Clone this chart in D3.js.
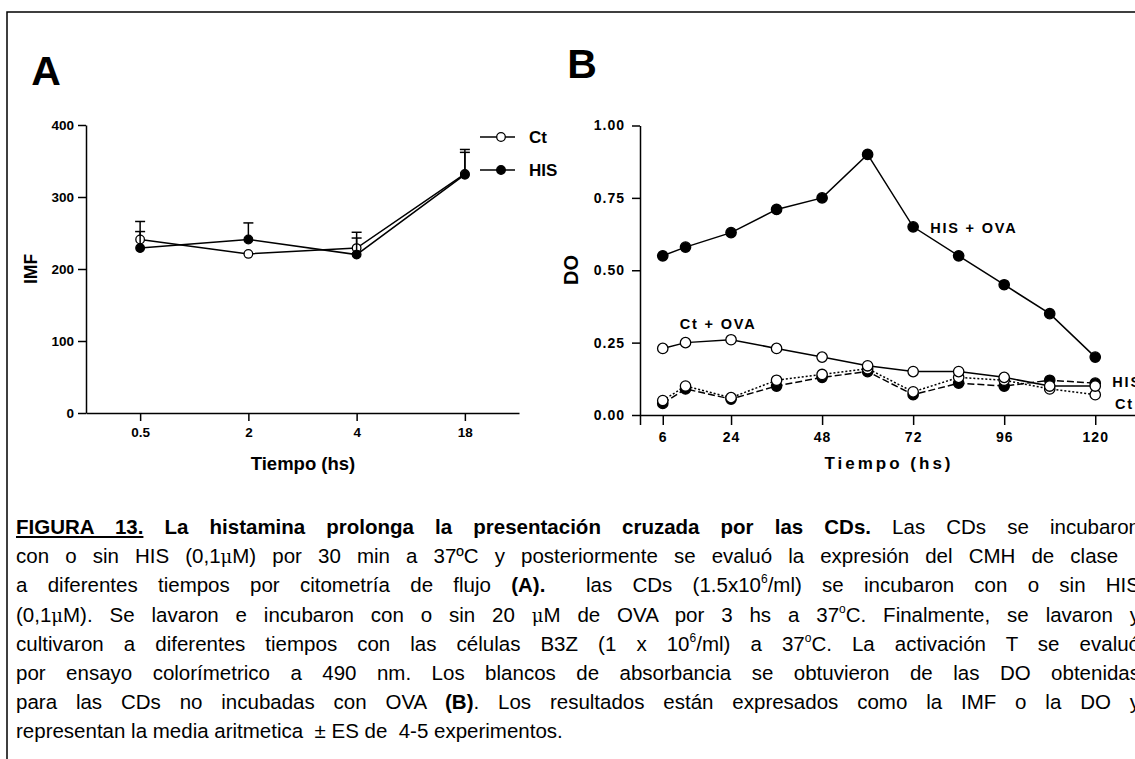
<!DOCTYPE html>
<html>
<head>
<meta charset="utf-8">
<script src="https://cdn.jsdelivr.net/npm/d3@7"></script>
<style>
body { margin: 0; background: #fff; width: 1135px; height: 759px; overflow: hidden; position: relative;
       font-family: Arial, "Liberation Sans", sans-serif; }
svg { position: absolute; left: 0; top: 0; }
.cap { position: absolute; left: 16px; width: 1124px; font-size: 20.5px; line-height: 29px;
       text-align: justify; text-align-last: justify; color: #000; }
.cap.last { text-align-last: left; white-space: pre; }
.cap sup { font-size: 12px; line-height: 0; vertical-align: 9px; }
.mu { font-family: "DejaVu Serif", serif; font-size: 18px; }
</style>
</head>
<body>
<div id="graph"></div>
<script>
// panel A
let timesA = ["0.5", "2", "4", "18"];
let ctA = [241, 221, 229, 332];
let ctAerr = [25, 0, 22, 34];
let hisA = [229, 241, 220, 331];
let hisAerr = [23, 23, 23, 31];
let ticksAy = [0, 100, 200, 300, 400];

// panel B
let timesB = [6, 12, 24, 36, 48, 60, 72, 84, 96, 108, 120];
let hisOva = [0.55, 0.58, 0.63, 0.71, 0.75, 0.90, 0.65, 0.55, 0.45, 0.35, 0.20];
let ctOva = [0.23, 0.25, 0.26, 0.23, 0.20, 0.17, 0.15, 0.15, 0.13, 0.10, 0.10];
let hisB = [0.04, 0.09, 0.055, 0.10, 0.13, 0.15, 0.07, 0.11, 0.10, 0.12, 0.11];
let ctB = [0.05, 0.10, 0.06, 0.12, 0.14, 0.16, 0.08, 0.13, 0.12, 0.09, 0.07];
let ticksBx = [0, 6, 24, 48, 72, 96, 120];
let ticksBy = [0, 0.25, 0.5, 0.75, 1];

let caption = [
    '<b><u>FIGURA 13.</u> La histamina prolonga la presentación cruzada por las CDs.</b> Las CDs se incubaron',
    'con o sin HIS (0,1<span class="mu">μ</span>M) por 30 min a 37ºC y posteriormente se evaluó la expresión del CMH de clase I',
    'a diferentes tiempos por citometría de flujo <b>(A).</b>&nbsp; las CDs (1.5x10<sup>6</sup>/ml) se incubaron con o sin HIS',
    '(0,1<span class="mu">μ</span>M). Se lavaron e incubaron con o sin 20 <span class="mu">μ</span>M de OVA por 3 hs a 37<sup>o</sup>C. Finalmente, se lavaron y',
    'cultivaron a diferentes tiempos con las células B3Z (1 x 10<sup>6</sup>/ml) a 37<sup>o</sup>C. La activación T se evaluó',
    'por ensayo colorímetrico a 490 nm. Los blancos de absorbancia se obtuvieron de las DO obtenidas',
    'para las CDs no incubadas con OVA <b>(B)</b>. Los resultados están expresados como la IMF o la DO y',
    'representan la media aritmetica  ± ES de  4-5 experimentos.'
];

let svg = d3.select("#graph").append("svg").attr("width", 1135).attr("height", 759);

// frame
svg.append("rect").attr("x", 7).attr("y", 12).attr("width", 1200).attr("height", 800)
    .attr("fill", "none").attr("stroke", "#000").attr("stroke-width", 1.5);

let styleAxis = function(g, size, spacing) {
    g.selectAll("path,line").attr("stroke", "#000").attr("stroke-width", 1.5);
    g.selectAll("text").attr("font-family", "Arial, 'Liberation Sans', sans-serif")
        .attr("font-weight", "bold").attr("font-size", size).attr("fill", "#000")
        .attr("letter-spacing", spacing);
};

// ---------- panel A ----------
let xA = d3.scalePoint().domain(timesA).range([86, 519]).padding(0.5);
let yA = d3.scaleLinear().domain([0, 400]).range([413, 125]);

let gAx = svg.append("g").attr("transform", "translate(0,413)")
    .call(d3.axisBottom(xA).tickSize(8).tickSizeOuter(0).tickPadding(6));
styleAxis(gAx, 13.5, 0);
let gAy = svg.append("g").attr("transform", "translate(86,0)")
    .call(d3.axisLeft(yA).tickValues(ticksAy).tickSize(8).tickSizeOuter(0).tickPadding(4));
styleAxis(gAy, 13.5, 0);

svg.append("text").attr("x", 46).attr("y", 85).attr("text-anchor", "middle")
    .attr("font-size", 41).attr("font-weight", "bold").text("A");
svg.append("text").attr("transform", "translate(37,269) rotate(-90)").attr("text-anchor", "middle")
    .attr("font-size", 17.5).attr("font-weight", "bold").text("IMF");
svg.append("text").attr("x", 303).attr("y", 470).attr("text-anchor", "middle")
    .attr("font-size", 18.5).attr("font-weight", "bold").text("Tiempo (hs)");

let seriesA = [
    { name: "Ct", vals: ctA, err: ctAerr, fill: "#fff" },
    { name: "HIS", vals: hisA, err: hisAerr, fill: "#000" }
];
let lineA = d3.line().x(function(d) { return xA(d.t); }).y(function(d) { return yA(d.v); });
seriesA.forEach(function(s) {
    let pts = timesA.map(function(t, i) { return { t: t, v: s.vals[i], e: s.err[i] }; });
    let bars = pts.filter(function(d) { return d.e > 0; });
    svg.append("g").selectAll("line").data(bars).enter().append("line")
        .attr("x1", function(d) { return xA(d.t); }).attr("x2", function(d) { return xA(d.t); })
        .attr("y1", function(d) { return yA(d.v); }).attr("y2", function(d) { return yA(d.v + d.e); })
        .attr("stroke", "#000").attr("stroke-width", 1.5);
    svg.append("g").selectAll("line").data(bars).enter().append("line")
        .attr("x1", function(d) { return xA(d.t) - 5; }).attr("x2", function(d) { return xA(d.t) + 5; })
        .attr("y1", function(d) { return yA(d.v + d.e); }).attr("y2", function(d) { return yA(d.v + d.e); })
        .attr("stroke", "#000").attr("stroke-width", 1.5);
    svg.append("path").datum(pts).attr("d", lineA).attr("fill", "none")
        .attr("stroke", "#000").attr("stroke-width", 1.5);
    svg.append("g").selectAll("circle").data(pts).enter().append("circle")
        .attr("cx", function(d) { return xA(d.t); }).attr("cy", function(d) { return yA(d.v); })
        .attr("r", 4.3).attr("fill", s.fill).attr("stroke", "#000").attr("stroke-width", 1.3);
});

// legend A
let legA = svg.append("g").selectAll("g").data(seriesA).enter().append("g")
    .attr("transform", function(d, i) { return "translate(480," + (137 + i * 33) + ")"; });
legA.append("line").attr("x1", 0).attr("x2", 35).attr("stroke", "#000").attr("stroke-width", 1.5);
legA.append("circle").attr("cx", 21).attr("r", 4.3).attr("fill", function(d) { return d.fill; })
    .attr("stroke", "#000").attr("stroke-width", 1.3);
legA.append("text").attr("x", 49).attr("y", 6).attr("font-size", 17).attr("font-weight", "bold")
    .text(function(d) { return d.name; });

// ---------- panel B ----------
let xB = d3.scaleLinear().domain([0, 131.8]).range([640, 1140]);
let yB = d3.scaleLinear().domain([0, 1]).range([415, 125.5]);

let gBx = svg.append("g").attr("transform", "translate(0,415)")
    .call(d3.axisBottom(xB).tickValues(ticksBx).tickSize(10).tickSizeOuter(0).tickPadding(7)
        .tickFormat(function(d) { return d === 0 ? "" : d; }));
styleAxis(gBx, 14, 1);
let gBy = svg.append("g").attr("transform", "translate(640,0)")
    .call(d3.axisLeft(yB).tickValues(ticksBy).tickSize(8).tickSizeOuter(0).tickPadding(7)
        .tickFormat(d3.format(".2f")));
styleAxis(gBy, 14, 1);

svg.append("text").attr("x", 582).attr("y", 78).attr("text-anchor", "middle")
    .attr("font-size", 41).attr("font-weight", "bold").text("B");
svg.append("text").attr("transform", "translate(578,270) rotate(-90)").attr("text-anchor", "middle")
    .attr("font-size", 20).attr("font-weight", "bold").text("DO");
svg.append("text").attr("x", 889).attr("y", 469).attr("text-anchor", "middle")
    .attr("font-size", 17).attr("font-weight", "bold").attr("letter-spacing", 3).text("Tiempo (hs)");

let seriesB = [
    { name: "HIS", vals: hisB, fill: "#000", dash: "7,3" },
    { name: "Ct", vals: ctB, fill: "#fff", dash: "2,2" },
    { name: "Ct + OVA", vals: ctOva, fill: "#fff", dash: null },
    { name: "HIS + OVA", vals: hisOva, fill: "#000", dash: null }
];
let lineB = d3.line().x(function(d) { return xB(d.t); }).y(function(d) { return yB(d.v); });
seriesB.forEach(function(s) {
    let pts = timesB.map(function(t, i) { return { t: t, v: s.vals[i] }; });
    svg.append("path").datum(pts).attr("d", lineB).attr("fill", "none")
        .attr("stroke", "#000").attr("stroke-width", 1.5)
        .attr("stroke-dasharray", s.dash);
    svg.append("g").selectAll("circle").data(pts).enter().append("circle")
        .attr("cx", function(d) { return xB(d.t); }).attr("cy", function(d) { return yB(d.v); })
        .attr("r", 5.2).attr("fill", s.fill).attr("stroke", "#000").attr("stroke-width", 1.3);
});

let labB = [
    { text: "HIS + OVA", t: 76.5, v: 0.63 },
    { text: "Ct + OVA", t: 10.5, v: 0.297 },
    { text: "HIS", t: 124.5, v: 0.095 },
    { text: "Ct", t: 125.2, v: 0.019 }
];
svg.append("g").selectAll("text").data(labB).enter().append("text")
    .attr("x", function(d) { return xB(d.t); }).attr("y", function(d) { return yB(d.v); })
    .attr("font-size", 14.5).attr("font-weight", "bold").attr("letter-spacing", 1.8)
    .text(function(d) { return d.text; });

// ---------- caption ----------
d3.select("body").selectAll("div.cap").data(caption).enter().append("div")
    .attr("class", function(d, i) { return i === caption.length - 1 ? "cap last" : "cap"; })
    .style("top", function(d, i) { return (512 + i * 29.2) + "px"; })
    .html(function(d) { return d; });
</script>
</body>
</html>
